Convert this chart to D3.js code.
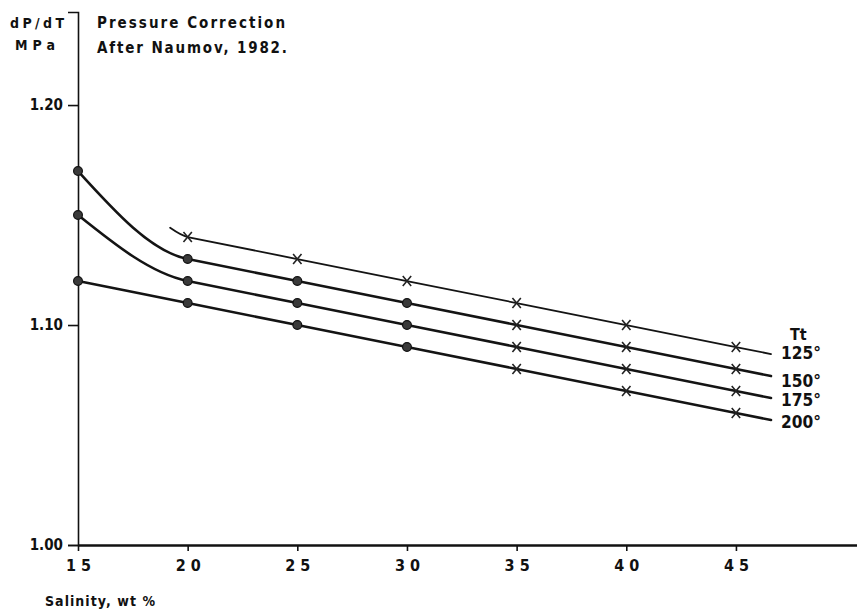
<!DOCTYPE html>
<html><head><meta charset="utf-8">
<script src="https://cdn.jsdelivr.net/npm/d3@7"></script>
<style>
html,body{margin:0;padding:0;background:#fff;}
svg{display:block;}
text{fill:#111;font-family:"DejaVu Sans Condensed","Liberation Sans",sans-serif;font-weight:bold;}
</style></head>
<body>
<script>
// ---- data ----
const tempLabels = ["125°", "150°", "175°", "200°"];
const sal125 = [19.2, 20, 25, 30, 35, 40, 45, 46.6];
const val125 = [1.1442, 1.14, 1.13, 1.12, 1.11, 1.10, 1.09, 1.0868];
const sal150 = [15, 20, 25, 30, 35, 40, 45, 46.6];
const val150 = [1.17, 1.13, 1.12, 1.11, 1.10, 1.09, 1.08, 1.0768];
const sal175 = [15, 20, 25, 30, 35, 40, 45, 46.6];
const val175 = [1.15, 1.12, 1.11, 1.10, 1.09, 1.08, 1.07, 1.0668];
const sal200 = [15, 20, 25, 30, 35, 40, 45, 46.6];
const val200 = [1.12, 1.11, 1.10, 1.09, 1.08, 1.07, 1.06, 1.0568];
// marker kinds per point: "dot", "cross" or "" (line end, no marker)
const mk125 = ["", "cross", "cross", "cross", "cross", "cross", "cross", ""];
const mk150 = ["dot", "dot", "dot", "dot", "cross", "cross", "cross", ""];
const mk175 = ["dot", "dot", "dot", "dot", "cross", "cross", "cross", ""];
const mk200 = ["dot", "dot", "dot", "dot", "cross", "cross", "cross", ""];
const xTicks = [15, 20, 25, 30, 35, 40, 45];
const xTickLabels = ["1 5", "2 0", "2 5", "3 0", "3 5", "4 0", "4 5"];
const yTicks = [1.00, 1.10, 1.20];
const yTickLabels = ["1.00", "1.10", "1.20"];

const W = 857, H = 612;
const svg = d3.select("body").append("svg").attr("width", W).attr("height", H);

const x = d3.scaleLinear().domain([15, 50.52]).range([78, 857]);
const y = d3.scaleLinear().domain([1.00, 1.2423]).range([545, 12]);

const series = [
  {sal: sal125, val: val125, mk: mk125, w: 1.8},
  {sal: sal150, val: val150, mk: mk150, w: 2.6},
  {sal: sal175, val: val175, mk: mk175, w: 2.6},
  {sal: sal200, val: val200, mk: mk200, w: 2.6}
];

// axes
const yAxis = d3.axisLeft(y).tickValues(yTicks).tickFormat((d, i) => yTickLabels[i]).tickSize(10).tickPadding(5);
const gy = svg.append("g").attr("transform", `translate(${x(15)},0)`).call(yAxis);
gy.select(".domain").attr("stroke", "#111").attr("stroke-width", 1.6);
gy.selectAll(".tick line").attr("stroke", "#111").attr("stroke-width", 1.6);
gy.selectAll(".tick text").attr("font-size", 15).attr("fill", "#111").attr("font-family", null);

const xAxis = d3.axisBottom(x).tickValues(xTicks).tickFormat((d, i) => xTickLabels[i]).tickSize(6).tickSizeOuter(0).tickPadding(6);
const gx = svg.append("g").attr("transform", `translate(0,${y(1.00)})`).call(xAxis);
gx.select(".domain").attr("stroke", "#111").attr("stroke-width", 2.6);
gx.selectAll(".tick line").attr("stroke", "#111").attr("stroke-width", 1.6);
gx.selectAll(".tick text").attr("font-size", 16).attr("fill", "#111").attr("font-family", null).attr("dy", "0.85em");

// lines: first segment drawn as a Hermite curve that joins the straight remainder smoothly
function seriesPath(sal, val) {
  const p = d3.path();
  const n = sal.length;
  const h = sal[1] - sal[0];
  const s0 = (val[1] - val[0]) / h;
  const m1 = (val[2] - val[1]) / (sal[2] - sal[1]);
  const m0 = (3 * s0 - m1) / 2;
  p.moveTo(x(sal[0]), y(val[0]));
  p.bezierCurveTo(
    x(sal[0] + h / 3), y(val[0] + m0 * h / 3),
    x(sal[1] - h / 3), y(val[1] - m1 * h / 3),
    x(sal[1]), y(val[1]));
  for (let i = 2; i < n; i++) p.lineTo(x(sal[i]), y(val[i]));
  return p.toString();
}
series.forEach(s => {
  svg.append("path").attr("d", seriesPath(s.sal, s.val))
    .attr("fill", "none").attr("stroke", "#141414").attr("stroke-width", s.w)
    .attr("stroke-linecap", "round").attr("stroke-linejoin", "round");
  const pts = s.sal.map((v, i) => [v, s.val[i], s.mk[i]]);
  const g = svg.append("g");
  g.selectAll("circle").data(pts.filter(p => p[2] === "dot")).join("circle")
    .attr("cx", p => x(p[0])).attr("cy", p => y(p[1])).attr("r", 4.4)
    .attr("fill", "#3a3a3a").attr("stroke", "#111").attr("stroke-width", 1.2);
  const c = pts.filter(p => p[2] === "cross");
  const rx = 4.2, ry = 5;
  g.selectAll("path.cr").data(c).join("path").attr("class", "cr")
    .attr("d", p => {
      const cx = x(p[0]), cy = y(p[1]);
      return `M${cx - rx},${cy - ry}L${cx + rx},${cy + ry}M${cx - rx},${cy + ry}L${cx + rx},${cy - ry}`;
    })
    .attr("stroke", "#222").attr("stroke-width", 1.6).attr("fill", "none");
});

// series labels
const labelY = [359, 387, 406, 428];
svg.append("text").attr("x", 790).attr("y", 340).attr("font-size", 16).text("Tt");
tempLabels.forEach((t, i) => {
  svg.append("text").attr("x", 781).attr("y", labelY[i]).attr("font-size", 17)
    .attr("textLength", 40).attr("lengthAdjust", "spacingAndGlyphs").text(t);
});

// titles
svg.append("text").attr("x", 10).attr("y", 28).attr("font-size", 14).attr("textLength", 54).attr("lengthAdjust", "spacing").text("dP/dT");
svg.append("text").attr("x", 15).attr("y", 50).attr("font-size", 14).attr("textLength", 40).attr("lengthAdjust", "spacing").text("MPa");
svg.append("text").attr("x", 97).attr("y", 28).attr("font-size", 15).attr("textLength", 188).attr("lengthAdjust", "spacing").text("Pressure Correction");
svg.append("text").attr("x", 97).attr("y", 53).attr("font-size", 15).attr("textLength", 190).attr("lengthAdjust", "spacing").text("After Naumov, 1982.");
svg.append("text").attr("x", 45).attr("y", 606).attr("font-size", 14).attr("textLength", 110).attr("lengthAdjust", "spacing").text("Salinity, wt %");
</script>
</body></html>
